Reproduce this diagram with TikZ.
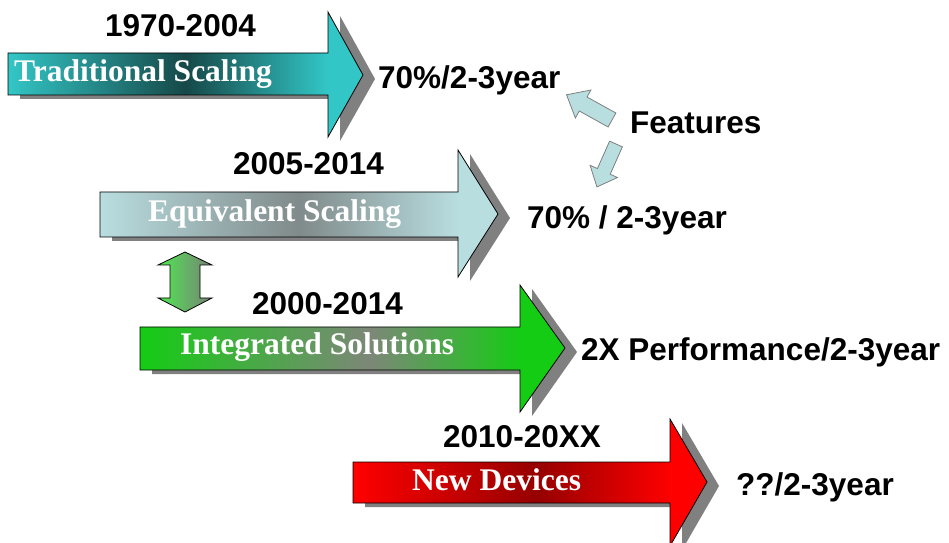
\documentclass[tikz,border=0pt]{standalone}
\usepackage{fontspec}
\setmainfont{Liberation Serif}
\setsansfont{Liberation Sans}
\usepackage{tikz}
\usetikzlibrary{positioning}

\definecolor{tealL}{RGB}{51,198,198}
\definecolor{tealD}{RGB}{22,72,72}
\definecolor{iceL}{RGB}{185,222,224}
\definecolor{iceD}{RGB}{128,138,138}
\definecolor{grnL}{RGB}{20,204,20}
\definecolor{grnD}{RGB}{125,135,120}
\definecolor{redL}{RGB}{255,0,0}
\definecolor{redD}{RGB}{150,0,0}
\definecolor{dblL}{RGB}{80,232,80}
\definecolor{dblD}{RGB}{120,128,120}
\definecolor{shade}{RGB}{128,128,128}

\pgfdeclarehorizontalshading{tealbar}{100bp}{color(0bp)=(tealL); color(25bp)=(tealL); color(50bp)=(tealD); color(70bp)=(tealL); color(100bp)=(tealL)}
\pgfdeclarehorizontalshading{icebar}{100bp}{color(0bp)=(iceL); color(25bp)=(iceL); color(50bp)=(iceD); color(70bp)=(iceL); color(100bp)=(iceL)}
\pgfdeclarehorizontalshading{grnbar}{100bp}{color(0bp)=(grnL); color(25bp)=(grnL); color(52bp)=(grnD); color(70bp)=(grnL); color(100bp)=(grnL)}
\pgfdeclarehorizontalshading{redbar}{100bp}{color(0bp)=(redL); color(25bp)=(redL); color(51bp)=(redD); color(70bp)=(redL); color(100bp)=(redL)}
\pgfdeclarehorizontalshading{dblbar}{100bp}{color(0bp)=(dblL); color(25bp)=(dblL); color(75bp)=(dblD); color(100bp)=(dblD)}

\begin{document}
\begin{tikzpicture}[x=1bp,y=-1bp]
      \tikzset{years/.style={font=\sffamily\bfseries\fontsize{31.5bp}{36bp}\selectfont,inner sep=0pt,anchor=base west},
               rate/.style={years},
               bartext/.style={font=\rmfamily\bfseries\fontsize{31.5bp}{36bp}\selectfont,text=white,inner sep=0pt,anchor=base west},
               bar/.style={draw=black,line width=0.8bp},
               barshadow/.style={fill=shade,shift={(12,4)}},
               hint/.style={fill=iceL,draw=shade,line width=0.8bp}}
      \useasboundingbox (0,0) rectangle (949,543);

      \fill[barshadow] (8,53) -- (328,53) -- (328,12) -- (363,75) -- (328,137) -- (328,95) -- (8,95) -- cycle;
      \path[bar,shading=tealbar] (8,53) -- (328,53) -- (328,12) -- (363,75) -- (328,137) -- (328,95) -- (8,95) -- cycle;

      \fill[barshadow] (100,192) -- (458,192) -- (458,150) -- (498,214) -- (458,277) -- (458,237) -- (100,237) -- cycle;
      \path[bar,shading=icebar] (100,192) -- (458,192) -- (458,150) -- (498,214) -- (458,277) -- (458,237) -- (100,237) -- cycle;

      \fill[barshadow] (140,327) -- (520,327) -- (520,285) -- (565,348) -- (520,412) -- (520,370) -- (140,370) -- cycle;
      \path[bar,shading=grnbar] (140,327) -- (520,327) -- (520,285) -- (565,348) -- (520,412) -- (520,370) -- (140,370) -- cycle;

      \fill[barshadow] (353,462) -- (670,462) -- (670,419) -- (707,482) -- (670,546) -- (670,503) -- (353,503) -- cycle;
      \path[bar,shading=redbar] (353,462) -- (670,462) -- (670,419) -- (707,482) -- (670,546) -- (670,503) -- (353,503) -- cycle;

      \path[bar,shading=dblbar] (185,252) -- (212,265) -- (200,265) -- (200,298) -- (212,298) -- (185,312) -- (158,298) -- (170,298) -- (170,265) -- (158,265) -- cycle;

      \path[hint,shift={(612,120)},rotate=151] (0,-8) -- (33,-8) -- (33,-16) -- (52,0) -- (33,16) -- (33,8) -- (0,8) -- cycle;
      \path[hint,shift={(616,144)},rotate=246] (0,-7) -- (30,-7) -- (30,-15) -- (47,0) -- (30,15) -- (30,7) -- (0,7) -- cycle;

      \node[years] (y1970) at (105,37) {1970-2004};
      \node[years] (y2005) at (233,175) {2005-2014};
      \node[years] (y2000) at (252,315) {2000-2014};
      \node[years] (y2010) at (443,447) {2010-20XX};

      \node[bartext] (trad) at (14,82) {Traditional Scaling};
      \node[bartext] (equiv) at (148,222) {Equivalent Scaling};
      \node[bartext] (integ) at (180,355) {Integrated Solutions};
      \node[bartext] (newdev) at (412,490) {New Devices};

      \node[rate] (r1) at (378,89) {70\%/2-3year};
      \node[rate] (feat) at (630,134) {Features};
      \node[rate] (r2) at (527,229) {70\% / 2-3year};
      \node[rate] (r3) at (581,361) {2X Performance/2-3year};
      \node[rate] (r4) at (736,495) {??/2-3year};
\end{tikzpicture}
\end{document}
